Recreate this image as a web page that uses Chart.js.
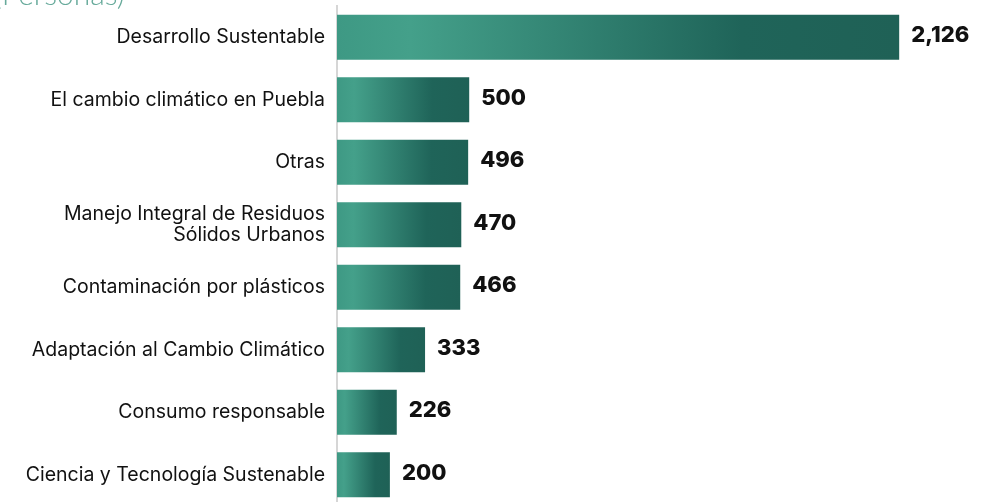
<!DOCTYPE html>
<html lang="es">
<head>
<meta charset="utf-8">
<title>Personas por tema</title>
<script src="https://cdn.jsdelivr.net/npm/chart.js@4/dist/chart.umd.min.js"></script>
<style>
  html, body { margin: 0; padding: 0; background: #fff; overflow: hidden; }
  #wrap { position: relative; width: 991px; height: 512px; }
  #subtitulo {
    position: absolute; left: -6px; top: -22px;
    font-family: Lato, "Noto Sans", sans-serif; font-weight: 300;
    font-size: 30px; color: #67aa9b; white-space: nowrap; line-height: 30px;
  }
</style>
</head>
<body>
<div id="wrap">
  <canvas id="grafica"></canvas>
  <div id="subtitulo">(Personas)</div>
</div>
<script>
// datos
const TEMAS = [
    'Desarrollo Sustentable',
    'El cambio climático en Puebla',
    'Otras',
    ['Manejo Integral de Residuos', 'Sólidos Urbanos'],
    'Contaminación por plásticos',
    'Adaptación al Cambio Climático',
    'Consumo responsable',
    'Ciencia y Tecnología Sustenable'
];
const PERSONAS = [2126, 500, 496, 470, 466, 333, 226, 200];

const FUENTE = 'Inter, "Open Sans", sans-serif';

// degradado por barra: claro a la izquierda, oscuro hacia el final
function degradado(context) {
    const chart = context.chart;
    const { ctx, chartArea, scales } = chart;
    if (!chartArea || context.dataIndex === undefined) return '#2f8070';
    const x0 = scales.x.getPixelForValue(0);
    const x1 = scales.x.getPixelForValue(PERSONAS[context.dataIndex]);
    const g = ctx.createLinearGradient(x0, 0, x1, 0);
    g.addColorStop(0, '#3e9984');
    g.addColorStop(0.13, '#44a08a');
    g.addColorStop(0.72, '#1f6459');
    g.addColorStop(1, '#1f6156');
    return g;
}

// etiquetas de valor al final de cada barra
const etiquetasValor = {
    id: 'etiquetasValor',
    afterDatasetsDraw(chart) {
        const { ctx } = chart;
        const meta = chart.getDatasetMeta(0);
        ctx.save();
        ctx.font = '800 22px ' + FUENTE;
        ctx.fillStyle = '#111';
        ctx.textAlign = 'left';
        ctx.textBaseline = 'middle';
        meta.data.forEach((bar, i) => {
            ctx.fillText(PERSONAS[i].toLocaleString('en-US'), bar.x + 12, bar.y - 1.5);
        });
        ctx.restore();
    }
};

new Chart(document.getElementById('grafica'), {
    type: 'bar',
    data: {
        labels: TEMAS,
        datasets: [{
            data: PERSONAS,
            backgroundColor: degradado,
            borderWidth: 0
        }]
    },
    options: {
        indexAxis: 'y',
        responsive: true,
        maintainAspectRatio: false,
        animation: false,
        layout: { padding: { top: 6, right: 22, bottom: 6, left: 0 } },
        plugins: {
            legend: { display: false },
            tooltip: { enabled: false }
        },
        scales: {
            x: { display: false, min: 0, max: 2390 },
            y: {
                afterFit: s => {
                    s.width = 337;
                    s.paddingTop = 0;
                    s.paddingBottom = 0;
                },
                grid: { display: false, drawTicks: false },
                border: { display: true, color: '#d6d6d6', width: 2 },
                ticks: {
                    padding: 12,
                    color: '#111',
                    font: { family: FUENTE, size: 19.5, lineHeight: 1.1 }
                }
            }
        }
    },
    plugins: [etiquetasValor]
});
</script>
</body>
</html>
